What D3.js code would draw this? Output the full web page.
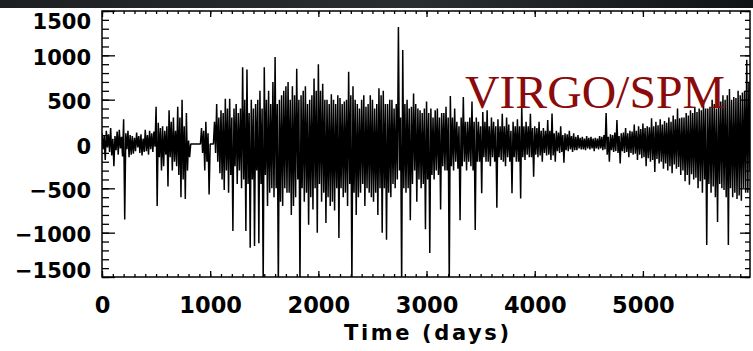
<!DOCTYPE html>
<html>
<head>
<meta charset="utf-8">
<script src="https://cdn.jsdelivr.net/npm/d3@7"></script>
<style>
  body { margin: 0; background: #fff; }
  svg { display: block; }
</style>
</head>
<body>
<div id="chart"></div>
<script>
// values, one every 10 days (one row = 200 days)
var dayStep = 10;
var vals = [
  120, -60, 90, -180, 150, -40, 110, -90, 180, -130, 60, -250, 90, -70, 140, -120, 160, -50, 80, -140,
  280, -850, 120, -60, 150, -150, 100, -120, 90, -110, 70, -80, 130, -40, 90, -100, 110, -130, 60, -90,
  160, -80, 100, -120, 150, -60, 120, -90, 140, -30, 420, -700, 240, -150, 180, -300, 200, -250, 150, -120,
  200, -480, 380, -150, 250, -300, 300, -200, 150, -250, 420, -350, 300, -600, 500, -400, 200, -620, 350, -300,
  40, -150, 0, 0, 0, 0, 0, 0, 0, 0, 0, 0, 180, -100, 150, -300, 250, -200, 120, -570,
  0, 0, 0, 0, 250, -100, 450, -200, 300, -330, 380, -400, 350, -520, 510, -300, 400, -550, 510, -350,
  300, -980, 400, -250, 450, -450, 350, -300, 400, -500, 865, -400, 500, -980, 840, -450, 350, -1170, 500, -400,
  400, -1150, 450, -300, 500, -1120, 600, -450, 400, -1600, 865, -350, 500, -700, 600, -550, 450, -500, 700, -600,
  980, -500, 450, -1600, 500, -650, 550, -700, 600, -500, 650, -550, 700, -550, 500, -800, 650, -700, 550, -600,
  850, -400, 500, -1600, 550, -500, 600, -650, 650, -550, 450, -910, 500, -600, 550, -740, 740, -500, 600, -1000,
  900, -450, 600, -650, 680, -550, 500, -890, 500, -600, 450, -700, 560, -650, 500, -750, 450, -500, 550, -1060,
  520, -500, 450, -600, 480, -550, 500, -700, 815, -450, 550, -1600, 650, -550, 500, -800, 450, -600, 400, -550,
  500, -450, 550, -700, 420, -500, 450, -550, 550, -600, 500, -650, 400, -550, 450, -800, 630, -500, 550, -1000,
  600, -500, 450, -1080, 450, -550, 500, -600, 500, -450, 400, -500, 450, -400, 1320, -300, 300, -1600, 1060, -500,
  450, -550, 500, -500, 400, -860, 420, -450, 570, -300, 450, -650, 400, -400, 380, -500, 350, -450, 400, -960,
  480, -400, 350, -1230, 400, -350, 300, -400, 380, -300, 400, -350, 300, -740, 350, -250, 350, -300, 420, -300,
  300, -1600, 540, -250, 300, -300, 400, -200, 250, -280, 200, -860, 300, -250, 530, -200, 250, -300, 250, -200,
  300, -250, 480, -300, 250, -970, 300, -200, 250, -200, 200, -555, 360, -150, 250, -200, 380, -200, 200, -250,
  300, -150, 250, -200, 200, -720, 280, -150, 200, -180, 340, -200, 200, -250, 300, -150, 220, -200, 150, -555,
  250, -150, 200, -200, 280, -200, 200, -615, 430, -150, 200, -180, 250, -120, 200, -150, 340, -150, 180, -370,
  200, -120, 180, -150, 250, -130, 150, -200, 180, -100, 150, -130, 270, -120, 150, -180, 345, -130, 120, -200,
  150, -80, 130, -100, 200, -90, 100, -210, 120, -70, 110, -80, 150, -60, 90, -90, 120, -70, 80, -70,
  100, -50, 70, -60, 80, -60, 60, -70, 90, -50, 70, -60, 80, -50, 60, -80, 70, -50, 60, -60,
  90, -50, 80, -70, 100, -60, 350, -120, 80, -200, 110, -70, 100, -90, 130, -80, 270, -100, 90, -220,
  120, -80, 130, -100, 180, -90, 120, -150, 150, -100, 140, -120, 220, -110, 150, -180, 200, -120, 170, -160,
  230, -150, 180, -250, 200, -160, 190, -200, 290, -180, 200, -315, 250, -170, 210, -220, 280, -200, 220, -280,
  260, -220, 240, -300, 300, -250, 250, -330, 320, -230, 280, -280, 400, -260, 290, -350, 300, -300, 300, -420,
  350, -350, 320, -460, 380, -340, 350, -400, 420, -380, 360, -500, 400, -420, 380, -550, 495, -400, 400, -1140,
  400, -450, 420, -550, 500, -480, 450, -600, 400, -880, 480, -450, 480, -500, 550, -520, 500, -600, 550, -1140,
  620, -500, 500, -600, 530, -550, 520, -620, 600, -580, 550, -640, 580, -500, 600, -550, 950, -550, 700, -300
];
var xMajor = [0, 1000, 2000, 3000, 4000, 5000];
var yMajor = [-1500, -1000, -500, 0, 500, 1000, 1500];
var xLabel = "Time (days)";
var tag = "VIRGO/SPM";

var W = 753, H = 351;
var margin = { top: 11, right: 3, bottom: 74, left: 102 },
    width = W - margin.left - margin.right,
    height = H - margin.top - margin.bottom;

var root = d3.select("#chart").append("svg")
    .attr("width", W)
    .attr("height", H);

// dark strip of the slide above the figure
var grad = root.append("defs").append("linearGradient")
    .attr("id", "band").attr("x1", 0).attr("x2", 1);
grad.append("stop").attr("offset", "0%").attr("stop-color", "#1d1f22");
grad.append("stop").attr("offset", "55%").attr("stop-color", "#2b2d30");
grad.append("stop").attr("offset", "100%").attr("stop-color", "#121314");
root.append("rect").attr("x", 0).attr("y", 0).attr("width", W).attr("height", 8)
    .attr("fill", "url(#band)");

root.select("defs").append("clipPath").attr("id", "plotclip")
    .append("rect").attr("width", width).attr("height", height);

var svg = root.append("g")
    .attr("transform", "translate(" + margin.left + "," + margin.top + ")");

var x = d3.scaleLinear().domain([0, 5990]).range([0, width]);
var y = d3.scaleLinear().domain([-1500, 1500]).range([height, 0]);

var xMinor = d3.range(0, 5990, 100);
var yMinor = d3.range(-1500, 1501, 100);

// the series
var line = d3.line()
    .x(function (d, i) { return x(i * dayStep); })
    .y(function (d) { return y(d); });

svg.append("g").attr("clip-path", "url(#plotclip)")
    .append("path")
    .datum(vals)
    .attr("d", line)
    .attr("fill", "none")
    .attr("stroke", "#000")
    .attr("stroke-width", 1.5)
    .attr("stroke-linejoin", "bevel");

function noDomain(g) { g.select(".domain").remove(); }

// minor ticks, all four sides
svg.append("g").attr("transform", "translate(0," + height + ")")
    .call(d3.axisBottom(x).tickValues(xMinor).tickSize(-3).tickFormat(""))
    .call(noDomain);
svg.append("g")
    .call(d3.axisTop(x).tickValues(xMinor).tickSize(-3).tickFormat(""))
    .call(noDomain);
svg.append("g")
    .call(d3.axisLeft(y).tickValues(yMinor).tickSize(-7).tickFormat(""))
    .call(noDomain);
svg.append("g").attr("transform", "translate(" + width + ",0)")
    .call(d3.axisRight(y).tickValues(yMinor).tickSize(-5).tickFormat(""))
    .call(noDomain);

// major ticks
var xb = svg.append("g").attr("transform", "translate(0," + height + ")")
    .call(d3.axisBottom(x).tickValues(xMajor).tickSize(-6).tickFormat(d3.format("d")))
    .call(noDomain);
xb.selectAll("text")
    .attr("y", 36).attr("dy", null)
    .style("font-family", "'DejaVu Sans', sans-serif")
    .style("font-weight", "bold")
    .style("font-size", "22.5px")
    .attr("fill", "#000");

svg.append("g")
    .call(d3.axisTop(x).tickValues(xMajor).tickSize(-6).tickFormat(""))
    .call(noDomain);

var yl = svg.append("g")
    .call(d3.axisLeft(y).tickValues(yMajor).tickSize(-13).tickPadding(11)
        .tickFormat(function (d) { return d < 0 ? "\u2212" + Math.abs(d) : d; }))
    .call(noDomain);
yl.selectAll("text")
    .attr("dy", function (d) { return d === 1500 ? 17 : d === -1500 ? 0 : 9; })
    .style("font-family", "'DejaVu Sans', sans-serif")
    .style("font-weight", "bold")
    .style("font-size", "21px")
    .attr("fill", "#000");

svg.append("g").attr("transform", "translate(" + width + ",0)")
    .call(d3.axisRight(y).tickValues(yMajor).tickSize(-10).tickFormat(""))
    .call(noDomain);

svg.selectAll(".tick line").attr("stroke", "#000").attr("stroke-width", 1.3);

// frame
svg.append("rect")
    .attr("width", width).attr("height", height)
    .attr("fill", "none").attr("stroke", "#000").attr("stroke-width", 1.5);

// axis title
svg.append("text")
    .attr("x", x(3000)).attr("y", height + 63)
    .attr("text-anchor", "middle")
    .attr("textLength", 165).attr("lengthAdjust", "spacing")
    .style("font-family", "'DejaVu Sans', sans-serif")
    .style("font-weight", "bold")
    .style("font-size", "21px")
    .text(xLabel);

// instrument tag
svg.append("text")
    .attr("x", x(3355)).attr("y", 97)
    .attr("textLength", 260).attr("lengthAdjust", "spacingAndGlyphs")
    .style("font-family", "'Liberation Serif', serif")
    .style("font-size", "47px")
    .attr("fill", "#8b0a0a")
    .text(tag);
</script>
</body>
</html>
